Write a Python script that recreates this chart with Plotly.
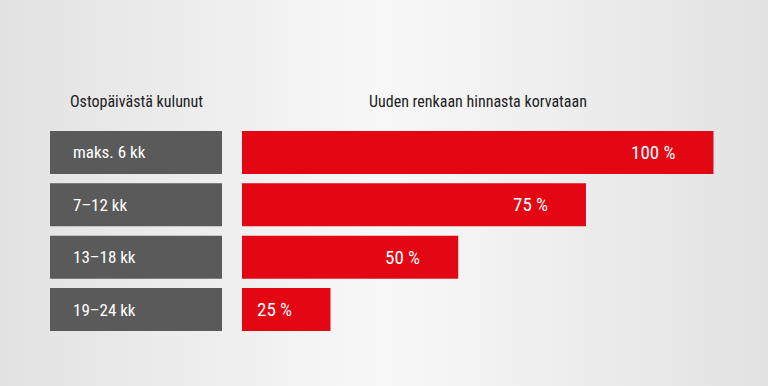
import plotly.graph_objects as go

# ---- data ----
categories = ["maks. 6 kk", "7–12 kk", "13–18 kk", "19–24 kk"]
values = [100, 75, 50, 25]
value_labels = ["100 %", "75 %", "50 %", "25 %"]
header_left = "Ostopäivästä kulunut"
header_right = "Uuden renkaan hinnasta korvataan"

W, H = 768, 386
FONT = "Liberation Sans Narrow, Roboto Condensed, Roboto, sans-serif"
RED = "#e30613"
GREY = "#5a5a5a"

rows = list(range(len(categories)))

fig = go.Figure()

# background gradient (decorative)
fig.add_trace(go.Scatter(
    x=[0, 1, 1, 0, 0], y=[0, 0, 1, 1, 0], mode="lines", fill="toself",
    line=dict(width=0),
    fillgradient=dict(type="horizontal",
                      colorscale=[[0, "#e2e2e2"], [0.5, "#f8f8f8"], [1, "#e2e2e2"]]),
    hoverinfo="skip", showlegend=False, xaxis="x", yaxis="y"))

# grey label boxes
fig.add_trace(go.Bar(
    x=[1] * len(categories), y=rows, orientation="h", width=0.82,
    marker=dict(color=GREY, line=dict(width=0)),
    hoverinfo="skip", showlegend=False, xaxis="x2", yaxis="y2"))

# red bars
fig.add_trace(go.Bar(
    x=values, y=rows, orientation="h", width=0.82,
    marker=dict(color=RED, line=dict(width=0)),
    hoverinfo="skip", showlegend=False, xaxis="x3", yaxis="y3"))

annotations = []
for r, c in zip(rows, categories):
    annotations.append(dict(x=0, y=r, xref="x2", yref="y2", text=c,
                            xanchor="left", yanchor="middle", xshift=21,
                            showarrow=False,
                            font=dict(family=FONT, size=17, color="white")))
for r, v, t in zip(rows, values, value_labels):
    annotations.append(dict(x=v, y=r, xref="x3", yref="y3", text=t,
                            xanchor="right", yanchor="middle", xshift=-36,
                            showarrow=False,
                            font=dict(family=FONT, size=19, color="white")))
header_y = 1 - 101 / H
annotations.append(dict(x=0.5, y=header_y, xref="x2 domain", yref="paper",
                        yanchor="middle", text=header_left, showarrow=False,
                        font=dict(family=FONT, size=16, color="#222222")))
annotations.append(dict(x=0.5, y=header_y, xref="x3 domain", yref="paper",
                        yanchor="middle", text=header_right, showarrow=False,
                        font=dict(family=FONT, size=16, color="#222222")))

ydom = [1 - 335.7 / H, 1 - 126.3 / H]
hidden = dict(visible=False, showgrid=False, zeroline=False, fixedrange=True)

fig.update_layout(
    width=W, height=H, margin=dict(l=0, r=0, t=0, b=0),
    paper_bgcolor="#efefef", plot_bgcolor="rgba(0,0,0,0)",
    bargap=0.18,
    xaxis=dict(domain=[0, 1], range=[0, 1], **hidden),
    yaxis=dict(domain=[0, 1], range=[0, 1], **hidden),
    xaxis2=dict(domain=[50 / W, 222 / W], range=[0, 1], anchor="y2", **hidden),
    yaxis2=dict(domain=ydom, range=[3.5, -0.5], anchor="x2", **hidden),
    xaxis3=dict(domain=[242 / W, 713.7 / W], range=[7.68, 100], anchor="y3", **hidden),
    yaxis3=dict(domain=ydom, range=[3.5, -0.5], anchor="x3", **hidden),
    annotations=annotations,
    showlegend=False,
)

fig.write_html("out.html", config={"displayModeBar": False},
               post_script="document.body.style.margin='0';document.body.style.overflow='hidden';")
